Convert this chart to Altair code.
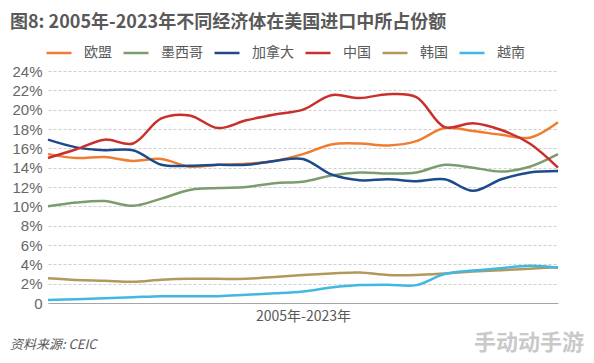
import altair as alt
import pandas as pd

years = list(range(2005, 2024))
series_names = ["欧盟", "墨西哥", "加拿大", "中国", "韩国", "越南"]
colors = ["#F07C30", "#7C9C6C", "#1C4A8A", "#C9302C", "#B4975A", "#41B8E4"]

eu = [15.4, 15.0, 15.1, 14.7, 14.9, 14.1, 14.3, 14.4, 14.7, 15.4, 16.4, 16.5, 16.3, 16.75, 18.1, 17.8, 17.4, 17.1, 18.7]
mexico = [10.0, 10.4, 10.55, 10.05, 10.8, 11.7, 11.9, 12.0, 12.4, 12.55, 13.2, 13.5, 13.4, 13.5, 14.3, 14.0, 13.6, 14.1, 15.4]
canada = [16.9, 16.1, 15.8, 15.8, 14.3, 14.2, 14.3, 14.3, 14.7, 14.9, 13.3, 12.7, 12.8, 12.6, 12.8, 11.6, 12.8, 13.5, 13.65]
china = [15.0, 15.9, 16.9, 16.5, 19.1, 19.4, 18.1, 18.9, 19.5, 20.0, 21.5, 21.2, 21.6, 21.3, 18.2, 18.6, 17.9, 16.5, 14.0]
korea = [2.55, 2.38, 2.3, 2.2, 2.4, 2.5, 2.5, 2.5, 2.7, 2.9, 3.05, 3.15, 2.9, 2.9, 3.05, 3.25, 3.4, 3.55, 3.7]
vietnam = [0.3, 0.4, 0.5, 0.6, 0.7, 0.7, 0.7, 0.85, 1.0, 1.2, 1.6, 1.85, 1.9, 1.85, 3.0, 3.35, 3.6, 3.85, 3.65]

values = [eu, mexico, canada, china, korea, vietnam]
rows = []
for name, vals in zip(series_names, values):
    for y, v in zip(years, vals):
        rows.append({"year": y, "share": v, "series": name})
df = pd.DataFrame(rows)

FONT = "Noto Sans CJK SC"
GRAY = "#595959"

lines = alt.Chart(df).mark_line(strokeWidth=2.5, interpolate="catmull-rom").encode(
    x=alt.X("year:Q", scale=alt.Scale(domain=[2005, 2023], nice=False, zero=False),
            axis=alt.Axis(title="2005年-2023年", labels=False, ticks=False, grid=False,
                          domain=True, domainColor="#a6a6a6", domainWidth=1.2,
                          titleFont=FONT, titleFontSize=14, titleFontWeight="normal",
                          titleColor=GRAY, titlePadding=6)),
    y=alt.Y("share:Q", scale=alt.Scale(domain=[0, 24], nice=False),
            axis=alt.Axis(title=None, values=list(range(0, 25, 2)), ticks=False, domain=False,
                          labelExpr="datum.value == 0 ? '0' : datum.value + '%'",
                          labelFont="Liberation Sans", labelFontSize=15, labelColor="#666666",
                          labelPadding=6, gridColor="#cfcfcf", gridDash=[3, 2], gridWidth=1)),
    color=alt.Color("series:N", sort=series_names,
                    scale=alt.Scale(domain=series_names, range=colors),
                    legend=alt.Legend(title=None, orient="none", direction="horizontal",
                                      legendX=-3, legendY=-32, symbolType="stroke",
                                      symbolSize=625, symbolStrokeWidth=2.5,
                                      labelFont=FONT, labelFontSize=14, labelColor=GRAY,
                                      labelOffset=11, columnPadding=6)),
)

source = alt.Chart(pd.DataFrame({"t": ["资料来源: CEIC"]})).mark_text(
    align="left", baseline="middle", font=FONT, fontSize=13, fontStyle="italic", color=GRAY
).encode(text="t:N", x=alt.value(-38), y=alt.value(274))

watermark = alt.Chart(pd.DataFrame({"t": ["手动动手游"]})).mark_text(
    align="right", baseline="middle", font=FONT, fontSize=22, fontWeight="bold", color="#c4c4c4", opacity=0.9
).encode(text="t:N", x=alt.value(536), y=alt.value(272))

chart = alt.layer(lines, source, watermark).properties(
    width=510, height=232,
    autosize=alt.AutoSizeParams(type="none"),
    padding={"left": 40, "top": 63, "right": 28, "bottom": 52},
    title=alt.TitleParams(
        text="图8: 2005年-2023年不同经济体在美国进口中所占份额",
        anchor="start", frame="group", dx=-38, offset=7,
        font=FONT, fontSize=18, fontWeight="bold", color=GRAY,
    ),
).configure_view(stroke=None)

chart.save("out.html", embed_options={"renderer": "svg", "actions": False})
